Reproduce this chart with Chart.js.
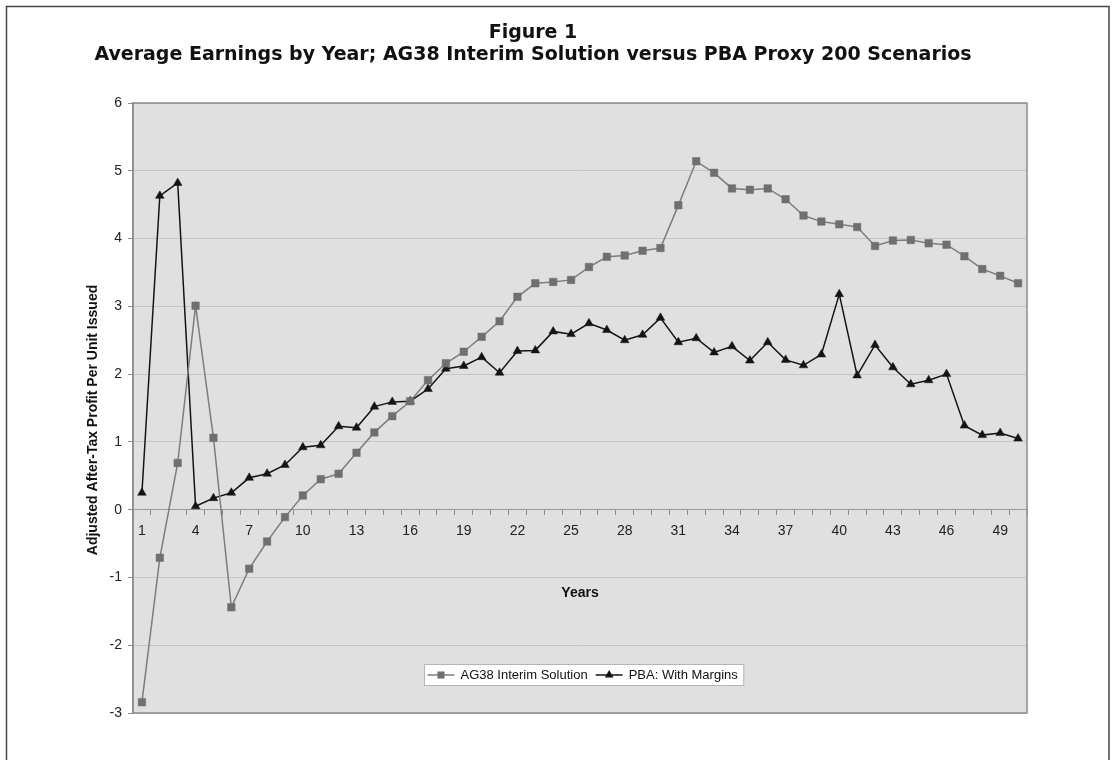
<!DOCTYPE html>
<html>
<head>
<meta charset="utf-8">
<script src="https://cdn.jsdelivr.net/npm/chart.js@4.4.1/dist/chart.umd.min.js"></script>
<style>
  html, body { margin: 0; padding: 0; background: #ffffff; }
  #wrap { width: 1114px; height: 760px; position: relative; }
</style>
</head>
<body>
<div id="wrap"><canvas id="c" width="1114" height="760"></canvas></div>
<script>
// ---------------- DATA ----------------
const years = [1,2,3,4,5,6,7,8,9,10,11,12,13,14,15,16,17,18,19,20,21,22,23,24,25,26,27,28,29,30,31,32,33,34,35,36,37,38,39,40,41,42,43,44,45,46,47,48,49,50];
const xTickLabels = [1,4,7,10,13,16,19,22,25,28,31,34,37,40,43,46,49];
const yTickValues = [-3,-2,-1,0,1,2,3,4,5,6];

const ag38Interim = [
  -2.84, -0.71, 0.69, 3.01, 1.06, -1.44, -0.87, -0.47, -0.11, 0.21,
   0.45,  0.53, 0.84, 1.14, 1.38,  1.60,  1.91,  2.16,  2.33, 2.55,
   2.78,  3.14, 3.34, 3.36, 3.39,  3.58,  3.73,  3.75,  3.82, 3.86,
   4.49,  5.14, 4.97, 4.74, 4.72,  4.74,  4.58,  4.34,  4.25, 4.21,
   4.17,  3.89, 3.97, 3.98, 3.93,  3.91,  3.74,  3.55,  3.45, 3.34
];
const pbaWithMargins = [
  0.25, 4.63, 4.82, 0.05, 0.17, 0.25, 0.47, 0.53, 0.66, 0.92,
  0.95, 1.23, 1.21, 1.52, 1.59, 1.60, 1.78, 2.08, 2.12, 2.25,
  2.02, 2.34, 2.35, 2.63, 2.59, 2.75, 2.65, 2.50, 2.58, 2.83,
  2.47, 2.53, 2.32, 2.41, 2.20, 2.47, 2.21, 2.13, 2.29, 3.18,
  1.98, 2.43, 2.10, 1.85, 1.91, 2.00, 1.24, 1.10, 1.13, 1.05
];

const seriesNames = ['AG38 Interim Solution', 'PBA: With Margins'];
const titleLines = ['Figure 1', 'Average Earnings by Year; AG38 Interim Solution versus PBA Proxy 200 Scenarios'];
const xAxisTitle = 'Years';
const yAxisTitle = 'Adjusted After-Tax Profit Per Unit Issued';

// ---------------- STYLE ----------------
const AG_COLOR = '#6f6f6f';
const AG_LINE = '#7d7d7d';
const PBA_COLOR = '#141414';
const PLOT_BG = '#e0e0e0';
const GRID = '#c5c5c5';
const AXIS = '#8c8c8c';
const LABEL_FONT = "'Liberation Sans', Arial, Helvetica, sans-serif";

// ---------------- PLUGINS ----------------
const backgroundPlugin = {
  id: 'bgFrame',
  beforeDraw(chart) {
    const { ctx, chartArea } = chart;
    ctx.save();
    ctx.fillStyle = '#ffffff';
    ctx.fillRect(0, 0, chart.width, chart.height);
    ctx.strokeStyle = '#444';
    ctx.lineWidth = 1.5;
    ctx.strokeRect(6.5, 6.5, chart.width - 5 - 6.5, chart.height + 40);
    ctx.fillStyle = PLOT_BG;
    ctx.fillRect(chartArea.left, chartArea.top, chartArea.right - chartArea.left, chartArea.bottom - chartArea.top);
    ctx.restore();
  },
  beforeDatasetsDraw(chart) {
    const { ctx, chartArea } = chart;
    ctx.save();
    ctx.strokeStyle = AXIS;
    ctx.lineWidth = 1.5;
    ctx.strokeRect(chartArea.left, chartArea.top, chartArea.right - chartArea.left, chartArea.bottom - chartArea.top);
    ctx.restore();
  }
};

const titlePlugin = {
  id: 'figTitle',
  afterDraw(chart) {
    const { ctx, chartArea } = chart;
    ctx.save();
    ctx.fillStyle = '#111';
    ctx.textAlign = 'center';
    ctx.textBaseline = 'middle';
    ctx.font = "bold 19px 'DejaVu Sans', sans-serif";
    const cx = 533;
    const target = 877;
    const w = ctx.measureText(titleLines[1]).width;
    let spacing = 0;
    if ('letterSpacing' in ctx) {
      spacing = (target - w) / (titleLines[1].length - 1);
      ctx.letterSpacing = spacing.toFixed(2) + 'px';
    }
    ctx.fillText(titleLines[0], cx + spacing / 2, 33);
    ctx.fillText(titleLines[1], cx + spacing / 2, 55);
    ctx.restore();

    // y-axis title (rotated)
    ctx.save();
    ctx.fillStyle = '#111';
    ctx.font = 'bold 14px ' + LABEL_FONT;
    ctx.textAlign = 'center';
    ctx.textBaseline = 'middle';
    ctx.translate(93, (chartArea.top + chartArea.bottom) / 2 + 12);
    ctx.rotate(-Math.PI / 2);
    ctx.fillText(yAxisTitle, 0, 0);
    ctx.restore();
  }
};

function drawMarker(ctx, style, x, y, r, color) {
  ctx.fillStyle = color;
  ctx.beginPath();
  if (style === 'rect') {
    const s = Math.SQRT1_2 * r;
    ctx.rect(x - s, y - s, 2 * s, 2 * s);
  } else {
    const a0 = 0, a1 = 2 * Math.PI / 3, a2 = 4 * Math.PI / 3;
    ctx.moveTo(x + Math.sin(a0) * r, y - Math.cos(a0) * r);
    ctx.lineTo(x + Math.sin(a1) * r, y - Math.cos(a1) * r);
    ctx.lineTo(x + Math.sin(a2) * r, y - Math.cos(a2) * r);
    ctx.closePath();
  }
  ctx.fill();
}

const legendPlugin = {
  id: 'boxLegend',
  afterDraw(chart) {
    const { ctx, chartArea } = chart;
    ctx.save();
    ctx.font = '13px ' + LABEL_FONT;
    const items = chart.data.datasets.map(ds => ({
      text: ds.label, color: ds.borderColor, fill: ds.pointBackgroundColor, style: ds.pointStyle,
      width: ctx.measureText(ds.label).width
    }));
    const lineLen = 27, gapText = 6, gapItem = 8, padL = 3, padR = 6;
    let total = padL + padR;
    items.forEach((it, i) => { total += lineLen + gapText + it.width + (i < items.length - 1 ? gapItem : 0); });
    const boxH = 21;
    const cx = (chartArea.left + chartArea.right) / 2 + 4;
    const left = Math.round(cx - total / 2) + 0.5;
    const top = Math.round(chartArea.bottom - 49) + 0.5;
    ctx.fillStyle = '#ffffff';
    ctx.fillRect(left, top, total, boxH);
    ctx.strokeStyle = '#b5b5b5';
    ctx.lineWidth = 1;
    ctx.strokeRect(left, top, total, boxH);
    let x = left + padL;
    const cy = top + boxH / 2;
    items.forEach((it) => {
      ctx.strokeStyle = it.color;
      ctx.lineWidth = 1.5;
      ctx.beginPath();
      ctx.moveTo(x, cy);
      ctx.lineTo(x + lineLen, cy);
      ctx.stroke();
      drawMarker(ctx, it.style, x + lineLen / 2, cy, 5, it.fill);
      x += lineLen + gapText;
      ctx.fillStyle = '#111';
      ctx.textAlign = 'left';
      ctx.textBaseline = 'middle';
      ctx.fillText(it.text, x, cy + 0.5);
      x += it.width + gapItem;
    });
    ctx.restore();
  }
};

// ---------------- CHART ----------------
const ctx = document.getElementById('c').getContext('2d');
new Chart(ctx, {
  type: 'line',
  data: {
    labels: years,
    datasets: [
      {
        label: seriesNames[0],
        data: ag38Interim,
        borderColor: AG_LINE,
        borderWidth: 1.5,
        pointStyle: 'rect',
        pointRadius: 5.3,
        pointBackgroundColor: AG_COLOR,
        pointBorderColor: AG_COLOR,
        pointBorderWidth: 0.5,
        tension: 0,
        fill: false
      },
      {
        label: seriesNames[1],
        data: pbaWithMargins,
        borderColor: PBA_COLOR,
        borderWidth: 1.5,
        pointStyle: 'triangle',
        pointRadius: 5,
        pointBackgroundColor: PBA_COLOR,
        pointBorderColor: PBA_COLOR,
        pointBorderWidth: 0.5,
        tension: 0,
        fill: false
      }
    ]
  },
  options: {
    responsive: false,
    animation: false,
    devicePixelRatio: 1,
    layout: { padding: { top: 103, right: 87, bottom: 47, left: 0 } },
    plugins: {
      legend: { display: false },
      title: { display: false },
      tooltip: { enabled: false }
    },
    scales: {
      x: {
        type: 'category',
        position: { y: 0 },
        offset: true,
        grid: {
          display: true,
          drawOnChartArea: false,
          drawTicks: true,
          tickLength: 5,
          tickColor: AXIS,
          offset: true
        },
        border: { display: true, color: '#999', width: 1 },
        ticks: {
          autoSkip: false,
          maxRotation: 0,
          minRotation: 0,
          padding: 8,
          color: '#222',
          font: { family: LABEL_FONT, size: 14 },
          callback: function (value, index) {
            const lab = years[index];
            return xTickLabels.includes(lab) ? String(lab) : '';
          }
        },
        title: {
          display: true,
          text: xAxisTitle,
          color: '#111',
          font: { family: LABEL_FONT, size: 14, weight: 'bold' },
          padding: { top: 37, bottom: 0 }
        }
      },
      y: {
        type: 'linear',
        position: 'left',
        min: -3,
        max: 6,
        afterBuildTicks(scale) {
          scale.ticks = yTickValues.map(v => ({ value: v }));
        },
        afterFit(scale) { scale.width = 133; },
        grid: {
          color: GRID,
          lineWidth: 1,
          drawTicks: true,
          tickLength: 5,
          tickColor: AXIS
        },
        border: { display: true, color: AXIS, width: 1.5 },
        ticks: {
          padding: 6,
          color: '#222',
          font: { family: LABEL_FONT, size: 14 }
        },
        title: { display: false }
      }
    }
  },
  plugins: [backgroundPlugin, titlePlugin, legendPlugin]
});
</script>
</body>
</html>
